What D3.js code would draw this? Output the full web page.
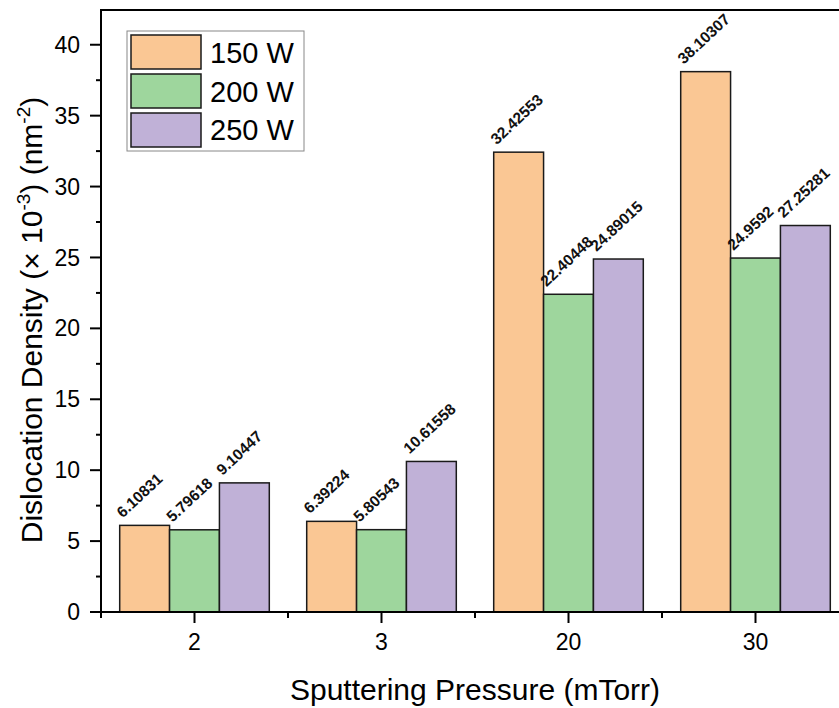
<!DOCTYPE html>
<html>
<head>
<meta charset="utf-8">
<script src="https://cdn.jsdelivr.net/npm/d3@7/dist/d3.min.js"></script>
<style>
  html, body { margin: 0; padding: 0; background: #fff; overflow: hidden; }
  svg { display: block; font-family: Arial, "Liberation Sans", sans-serif; }
</style>
</head>
<body>
<svg id="chart" width="839" height="708"></svg>
<script>
// Sputtering pressure groups (mTorr)
const pressures = ["2", "3", "20", "30"];
// RF power series
const powers = ["150 W", "200 W", "250 W"];
// Dislocation density (× 10^-3 nm^-2) per power, ordered by pressure
const density150 = [6.10831, 6.39224, 32.42553, 38.10307];
const density200 = [5.79618, 5.80543, 22.40448, 24.9592];
const density250 = [9.10447, 10.61558, 24.89015, 27.25281];
const seriesValues = [density150, density200, density250];
const yTicks = [0, 5, 10, 15, 20, 25, 30, 35, 40];
const colors = ["#fac794", "#9ed69d", "#c0b1d7"];

const svg = d3.select("#chart");
const plotLeft = 101, plotRight = 849, plotTop = 10, plotBottom = 612;

const x0 = d3.scaleBand().domain(pressures).range([plotLeft, plotRight]).paddingInner(0).paddingOuter(0);
const x1 = d3.scaleBand().domain(powers).range([0, x0.bandwidth() * 0.8]);
const y = d3.scaleLinear().domain([0, 42.45]).range([plotBottom, plotTop]);

const barX = (p, i) => x0(pressures[i]) + x0.bandwidth() * 0.1 + x1(p);

// Bars with rotated value labels
powers.forEach((p, si) => {
  const g = svg.append("g");
  g.selectAll("rect").data(seriesValues[si]).join("rect")
    .attr("x", (d, i) => barX(p, i))
    .attr("y", d => y(d))
    .attr("width", x1.bandwidth())
    .attr("height", d => y(0) - y(d))
    .attr("fill", colors[si])
    .attr("stroke", "#1a1a1a")
    .attr("stroke-width", 1.5);
  g.selectAll("text").data(seriesValues[si]).join("text")
    .attr("transform", (d, i) => `translate(${barX(p, i) + 3},${y(d) - 7}) rotate(-43)`)
    .attr("font-size", 15.5)
    .attr("font-weight", "bold")
    .attr("fill", "#111")
    .text(d => String(d));
});

// Y axis
const yAxis = svg.append("g").attr("transform", `translate(${plotLeft},0)`);
yAxis.append("line").attr("x1", 0).attr("x2", 0).attr("y1", plotTop).attr("y2", plotBottom + 4)
  .attr("stroke", "#000").attr("stroke-width", 2);
const yMinor = d3.range(2.5, 42.45, 5);
yAxis.selectAll(".ymin").data(yMinor).join("line")
  .attr("x1", -5).attr("x2", 0).attr("y1", d => y(d)).attr("y2", d => y(d))
  .attr("stroke", "#000").attr("stroke-width", 2);
yAxis.selectAll(".ymaj").data(yTicks).join("line")
  .attr("x1", -11).attr("x2", 0).attr("y1", d => y(d)).attr("y2", d => y(d))
  .attr("stroke", "#000").attr("stroke-width", 2);
yAxis.selectAll("text").data(yTicks).join("text")
  .attr("x", -21).attr("y", d => y(d)).attr("dy", "0.35em")
  .attr("text-anchor", "end").attr("font-size", 23).attr("fill", "#000")
  .text(d => d);

// X axis
const xAxis = svg.append("g");
xAxis.append("line").attr("x1", plotLeft - 1).attr("x2", plotRight).attr("y1", plotBottom).attr("y2", plotBottom)
  .attr("stroke", "#000").attr("stroke-width", 2);
const bounds = pressures.map(p => x0(p)).concat([plotRight]);
xAxis.selectAll(".xmin").data(bounds).join("line")
  .attr("x1", d => d).attr("x2", d => d).attr("y1", plotBottom).attr("y2", plotBottom + 6)
  .attr("stroke", "#000").attr("stroke-width", 2);
xAxis.selectAll(".xmaj").data(pressures).join("line")
  .attr("x1", d => x0(d) + x0.bandwidth() / 2).attr("x2", d => x0(d) + x0.bandwidth() / 2)
  .attr("y1", plotBottom).attr("y2", plotBottom + 11)
  .attr("stroke", "#000").attr("stroke-width", 2);
xAxis.selectAll("text").data(pressures).join("text")
  .attr("x", d => x0(d) + x0.bandwidth() / 2).attr("y", plotBottom + 38)
  .attr("text-anchor", "middle").attr("font-size", 23).attr("fill", "#000")
  .text(d => d);

// Top frame
svg.append("line").attr("x1", plotLeft - 1).attr("x2", plotRight).attr("y1", plotTop).attr("y2", plotTop)
  .attr("stroke", "#000").attr("stroke-width", 2);

// Axis titles
svg.append("text")
  .attr("x", (plotLeft + plotRight) / 2).attr("y", 700)
  .attr("text-anchor", "middle").attr("font-size", 30).attr("fill", "#000")
  .text("Sputtering Pressure (mTorr)");

const yt = svg.append("text")
  .attr("transform", "translate(42,320) rotate(-90)")
  .attr("text-anchor", "middle").attr("font-size", 30).attr("fill", "#000");
yt.append("tspan").text("Dislocation Density (× 10");
yt.append("tspan").attr("font-size", 19).attr("dy", -12).text("-3");
yt.append("tspan").attr("dy", 12).text(") (nm");
yt.append("tspan").attr("font-size", 19).attr("dy", -12).text("-2");
yt.append("tspan").attr("dy", 12).text(")");

// Legend
const lg = svg.append("g");
lg.append("rect").attr("x", 127).attr("y", 31).attr("width", 177).attr("height", 120)
  .attr("fill", "#fff").attr("stroke", "#888").attr("stroke-width", 1);
powers.forEach((p, i) => {
  lg.append("rect").attr("x", 131).attr("y", 35 + i * 39).attr("width", 70).attr("height", 34)
    .attr("fill", colors[i]).attr("stroke", "#1a1a1a").attr("stroke-width", 1.5);
  lg.append("text").attr("x", 210).attr("y", 63 + i * 38.5)
    .attr("font-size", 29).attr("fill", "#000").text(p);
});
</script>
</body>
</html>
